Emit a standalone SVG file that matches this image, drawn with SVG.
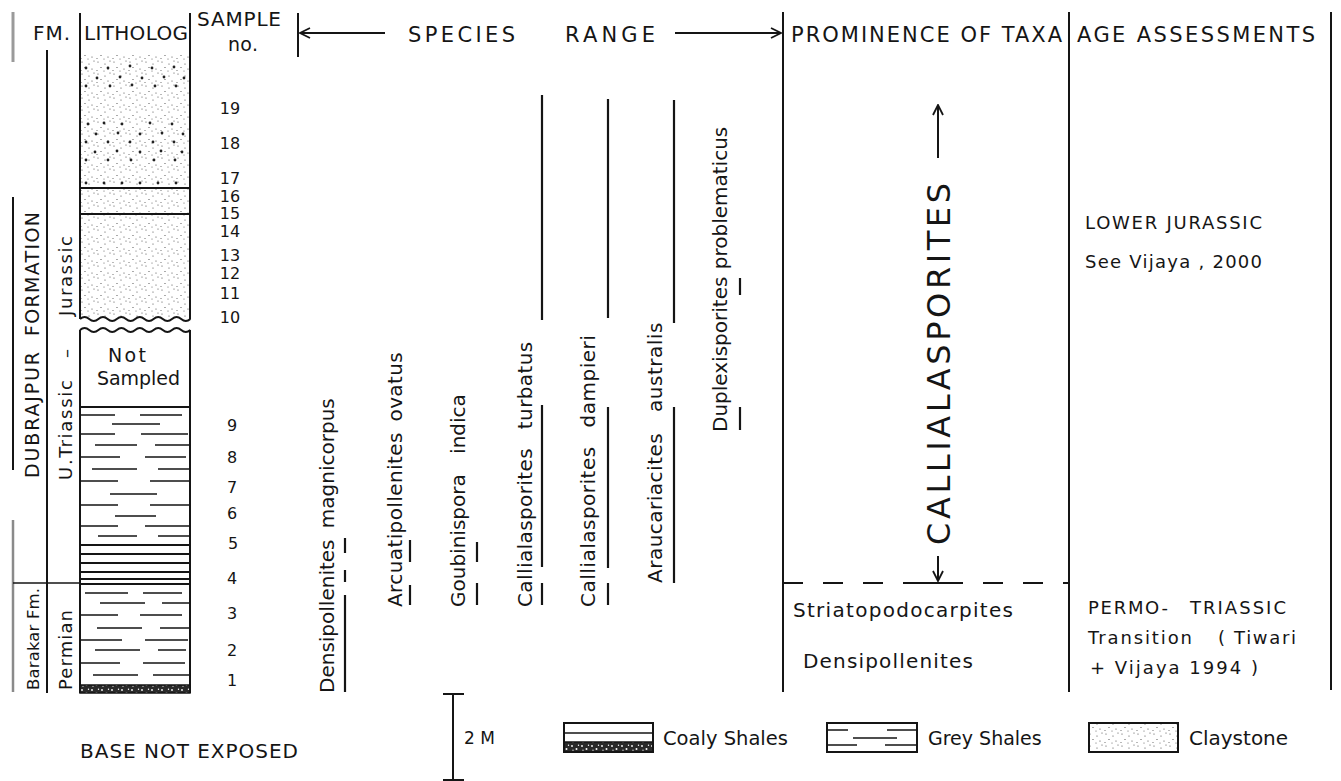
<svg xmlns="http://www.w3.org/2000/svg" width="1341" height="781" viewBox="0 0 1341 781">
<style>
.ln{stroke:#151515;stroke-width:2;fill:none}
.th{stroke:#151515;stroke-width:1.4;fill:none}
.rg{stroke:#151515;stroke-width:2.2;fill:none}
.t{font-family:"DejaVu Sans","Liberation Sans",Arial,sans-serif;fill:#151515}
.h{font-size:21px}
.n{font-size:16px}
.sp{font-size:20px}
.a{font-size:18px}
</style>
<defs>
<pattern id="clay" width="16" height="12" patternUnits="userSpaceOnUse">
<circle cx="2" cy="2" r="0.6" fill="#444"/><circle cx="9" cy="4" r="0.6" fill="#444"/><circle cx="14" cy="1" r="0.55" fill="#444"/><circle cx="5" cy="7.5" r="0.6" fill="#444"/><circle cx="12" cy="9" r="0.6" fill="#444"/><circle cx="1" cy="10.5" r="0.5" fill="#444"/><circle cx="8" cy="11" r="0.5" fill="#444"/>
</pattern>
<pattern id="coal" width="10" height="8" patternUnits="userSpaceOnUse">
<rect width="10" height="8" fill="#2a2a2a"/><circle cx="2" cy="2" r="0.9" fill="#fff"/><circle cx="6.5" cy="5" r="1" fill="#fff"/><circle cx="8.5" cy="1.2" r="0.7" fill="#fff"/><circle cx="3" cy="6.2" r="0.6" fill="#fff"/>
</pattern>
<marker id="arr" viewBox="0 0 12 12" refX="11" refY="6" markerWidth="12" markerHeight="12" markerUnits="userSpaceOnUse" orient="auto"><path d="M1,1 L11,6 L1,11" fill="none" stroke="#151515" stroke-width="1.8"/></marker>
</defs>
<rect width="1341" height="781" fill="#fff"/>

<g id="frame">
<line x1="13" y1="12" x2="13" y2="62" stroke="#9a9a9a" stroke-width="3"/>
<line x1="13" y1="197" x2="13" y2="470" class="ln"/>
<line x1="13" y1="520" x2="13" y2="692" stroke="#8a8a8a" stroke-width="2.5"/>
<line x1="47" y1="50" x2="47" y2="693" class="ln"/>
<line x1="13" y1="583" x2="80" y2="583" class="th"/>
<line x1="298" y1="13" x2="298" y2="57" class="ln"/>
<line x1="783" y1="12" x2="783" y2="692" class="ln"/>
<line x1="1069" y1="12" x2="1069" y2="692" class="ln"/>
<line x1="1331" y1="12" x2="1331" y2="690" class="ln"/>
</g>

<g id="header">
<text class="t" x="33" y="40" font-size="20" textLength="37" lengthAdjust="spacing">FM.</text>
<text class="t" x="84" y="40" font-size="20" textLength="104" lengthAdjust="spacing">LITHOLOG</text>
<text class="t" x="197" y="26" font-size="20" textLength="84" lengthAdjust="spacing">SAMPLE</text>
<text class="t" x="228" y="51" font-size="19" textLength="30" lengthAdjust="spacing">no.</text>
<text class="t h" x="408" y="42" textLength="107" lengthAdjust="spacing">SPECIES</text>
<text class="t h" x="565" y="42" textLength="90" lengthAdjust="spacing">RANGE</text>
<text class="t h" x="791" y="42" textLength="271" lengthAdjust="spacing">PROMINENCE OF TAXA</text>
<text class="t h" x="1077" y="42" textLength="238" lengthAdjust="spacing">AGE ASSESSMENTS</text>
</g>

<g id="fm-column">
<text class="t" font-size="19" transform="translate(39,478) rotate(-90)"><tspan x="0" textLength="126" lengthAdjust="spacing">DUBRAJPUR</tspan><tspan x="142" textLength="124" lengthAdjust="spacing">FORMATION</tspan></text>
<text class="t" font-size="16.5" transform="translate(39,690) rotate(-90)" textLength="102" lengthAdjust="spacing">Barakar Fm.</text>
<text class="t" font-size="18" transform="translate(72,480) rotate(-90)"><tspan x="0" textLength="100" lengthAdjust="spacing">U.Triassic</tspan><tspan x="122">–</tspan><tspan x="164" textLength="80" lengthAdjust="spacing">Jurassic</tspan></text>
<text class="t" font-size="18" transform="translate(72,690) rotate(-90)" textLength="80" lengthAdjust="spacing">Permian</text>
</g>

<g id="litholog">
<rect x="80" y="55" width="110" height="262" fill="url(#clay)"/>
<g fill="#222">
<circle cx="86" cy="68" r="1.4"/><circle cx="108" cy="68" r="1.4"/><circle cx="130" cy="66" r="1.4"/><circle cx="152" cy="68" r="1.4"/><circle cx="174" cy="67" r="1.4"/>
<circle cx="97" cy="78" r="1.4"/><circle cx="120" cy="77" r="1.4"/><circle cx="142" cy="78" r="1.4"/><circle cx="164" cy="77" r="1.4"/><circle cx="184" cy="78" r="1.4"/>
<circle cx="86" cy="86" r="1.4"/><circle cx="110" cy="86" r="1.4"/><circle cx="132" cy="85" r="1.4"/><circle cx="155" cy="86" r="1.4"/><circle cx="176" cy="86" r="1.4"/>
<circle cx="88" cy="124" r="1.4"/><circle cx="104" cy="123" r="1.4"/><circle cx="122" cy="124" r="1.4"/><circle cx="150" cy="123" r="1.4"/><circle cx="172" cy="124" r="1.4"/>
<circle cx="96" cy="134" r="1.4"/><circle cx="118" cy="133" r="1.4"/><circle cx="140" cy="134" r="1.4"/><circle cx="162" cy="133" r="1.4"/><circle cx="183" cy="134" r="1.4"/>
<circle cx="86" cy="142" r="1.4"/><circle cx="108" cy="142" r="1.4"/><circle cx="130" cy="142" r="1.4"/><circle cx="153" cy="142" r="1.4"/><circle cx="174" cy="142" r="1.4"/>
<circle cx="95" cy="152" r="1.4"/><circle cx="117" cy="151" r="1.4"/><circle cx="140" cy="152" r="1.4"/><circle cx="161" cy="151" r="1.4"/><circle cx="182" cy="152" r="1.4"/>
<circle cx="86" cy="160" r="1.4"/><circle cx="108" cy="160" r="1.4"/><circle cx="131" cy="160" r="1.4"/><circle cx="154" cy="160" r="1.4"/><circle cx="175" cy="160" r="1.4"/>
<circle cx="86" cy="183" r="1.4"/><circle cx="104" cy="183" r="1.4"/><circle cx="122" cy="183" r="1.4"/><circle cx="140" cy="183" r="1.4"/><circle cx="158" cy="183" r="1.4"/><circle cx="176" cy="183" r="1.4"/>
</g>
<line x1="80" y1="188" x2="190" y2="188" class="ln"/>
<line x1="80" y1="214" x2="190" y2="214" class="ln"/>
<path class="ln" d="M80,319 q4.6,-4 9.2,0 t9.2,0 t9.2,0 t9.2,0 t9.2,0 t9.2,0 t9.2,0 t9.2,0 t9.2,0 t9.2,0 t9.2,0 t9.2,0"/>
<path class="ln" d="M80,330 q4.6,-4 9.2,0 t9.2,0 t9.2,0 t9.2,0 t9.2,0 t9.2,0 t9.2,0 t9.2,0 t9.2,0 t9.2,0 t9.2,0 t9.2,0"/>
<line x1="80" y1="13" x2="80" y2="319" class="ln"/>
<line x1="190" y1="13" x2="190" y2="319" class="ln"/>
<line x1="80" y1="330" x2="80" y2="693" class="ln"/>
<line x1="190" y1="330" x2="190" y2="693" class="ln"/>
<text class="t" font-size="19" x="127" y="362" text-anchor="middle" textLength="38" lengthAdjust="spacing">Not</text>
<text class="t" font-size="19" x="97" y="385" textLength="83" lengthAdjust="spacing">Sampled</text>
<line x1="80" y1="407" x2="190" y2="407" class="ln"/>
<g class="th">
<path d="M80,415H115M140,415H182M112,424H160M80,434H115M141,434H188M95,445H137M155,445H190M80,457H120M145,457H186M92,469H137M158,469H190M80,481H118M150,481H190M110,494H157M80,505H118M150,505H190M115,516H156M80,526H118M145,526H190M98,536H137M158,536H190"/>
<path d="M85,593H128M143,593H182M100,603H145M162,603H190M80,615H118M140,615H182M97,628H142M160,628H190M80,640H122M145,640H188M95,650H140M158,650H186M80,663H120M143,663H185M93,675H138M153,675H190"/>
</g>
<path class="ln" d="M80,545H190M80,554H190M80,563H190M80,572H190M80,579H190M80,584H190"/>
<rect x="80" y="685" width="110" height="8" fill="url(#coal)" stroke="#151515" stroke-width="1.5"/>
</g>

<g id="samples" class="t n" text-anchor="middle">
<text x="230" y="114">19</text><text x="230" y="149">18</text><text x="230" y="184">17</text><text x="230" y="202">16</text><text x="230" y="219">15</text><text x="230" y="237">14</text><text x="230" y="261">13</text><text x="230" y="279">12</text><text x="230" y="299">11</text><text x="230" y="323">10</text>
<text x="232" y="431">9</text><text x="232" y="463">8</text><text x="232" y="493">7</text><text x="232" y="519">6</text><text x="233" y="549">5</text><text x="232" y="584">4</text><text x="232" y="619">3</text><text x="232" y="656">2</text><text x="232" y="686">1</text>
</g>

<g id="connectors">
<line x1="385" y1="33" x2="300" y2="33" class="ln" marker-end="url(#arr)"/>
<line x1="675" y1="33" x2="781" y2="33" class="ln" marker-end="url(#arr)"/>
<line x1="938" y1="158" x2="938" y2="105" class="ln" marker-end="url(#arr)"/>
<line x1="938" y1="556" x2="938" y2="581" class="ln" marker-end="url(#arr)"/>
<line x1="783" y1="583" x2="1069" y2="583" class="ln" stroke-dasharray="20 20"/>
<line x1="912" y1="583" x2="962" y2="583" class="ln"/>
</g>

<g id="sp-densipollenites-magnicorpus">
<text class="t sp" transform="translate(334,693) rotate(-90)">Densipollenites <tspan dx="5">magnicorpus</tspan></text>
<path class="rg" d="M345,538V553M345,570V582M345,595V692"/>
</g>
<g id="sp-arcuatipollenites-ovatus">
<text class="t sp" letter-spacing="0.4" transform="translate(402,607) rotate(-90)">Arcuatipollenites <tspan dx="4">ovatus</tspan></text>
<path class="rg" d="M410,540V562M410,585V605"/>
</g>
<g id="sp-goubinispora-indica">
<text class="t sp" transform="translate(465,607) rotate(-90)">Goubinispora <tspan dx="14">indica</tspan></text>
<path class="rg" d="M477,542V562M477,583V605"/>
</g>
<g id="sp-callialasporites-turbatus">
<text class="t sp" letter-spacing="0.4" transform="translate(532,607) rotate(-90)">Callialasporites <tspan dx="12">turbatus</tspan></text>
<path class="rg" d="M542,95V320M542,405V567M542,583V605"/>
</g>
<g id="sp-callialasporites-dampieri">
<text class="t sp" letter-spacing="0.5" transform="translate(595,607) rotate(-90)">Callialasporites <tspan dx="12">dampieri</tspan></text>
<path class="rg" d="M608,99V318M608,407V568M608,583V605"/>
</g>
<g id="sp-araucariacites-australis">
<text class="t sp" letter-spacing="0.5" transform="translate(662,583) rotate(-90)">Araucariacites <tspan dx="14">australis</tspan></text>
<path class="rg" d="M674,100V323M674,407V583"/>
</g>
<g id="sp-duplexisporites-problematicus">
<text class="t sp" transform="translate(727,432) rotate(-90)">Duplexisporites <tspan dx="1">problematicus</tspan></text>
<path class="rg" d="M740,278V295M740,407V430"/>
</g>

<g id="prominence">
<text class="t" font-size="32" transform="translate(950,545) rotate(-90)" textLength="362" lengthAdjust="spacing">CALLIALASPORITES</text>
<text class="t" x="793" y="617" font-size="20" textLength="220" lengthAdjust="spacing">Striatopodocarpites</text>
<text class="t" x="803" y="668" font-size="20" textLength="170" lengthAdjust="spacing">Densipollenites</text>
</g>

<g id="age">
<text class="t a" x="1085" y="229" textLength="177" lengthAdjust="spacing">LOWER JURASSIC</text>
<text class="t a" x="1085" y="268" textLength="177" lengthAdjust="spacing">See Vijaya , 2000</text>
<text class="t a" x="1088" y="614"><tspan textLength="80" lengthAdjust="spacing">PERMO-</tspan><tspan x="1190" textLength="96" lengthAdjust="spacing">TRIASSIC</tspan></text>
<text class="t a" x="1088" y="644"><tspan textLength="104" lengthAdjust="spacing">Transition</tspan><tspan x="1218" textLength="78" lengthAdjust="spacing">( Tiwari</tspan></text>
<text class="t a" x="1090" y="674" textLength="168" lengthAdjust="spacing">+ Vijaya  1994 )</text>
</g>

<g id="legend">
<text class="t" font-size="20" x="80" y="758" textLength="218" lengthAdjust="spacing">BASE NOT EXPOSED</text>
<path class="ln" d="M453,694V780M443,694H464M443,780H464"/>
<text class="t" font-size="17" x="464" y="744">2 M</text>
<g id="legend-coaly">
<rect x="564" y="742" width="89" height="10" fill="url(#coal)"/>
<rect x="564" y="723" width="89" height="29" class="ln"/>
<line x1="564" y1="733" x2="653" y2="733" class="th"/>
<line x1="564" y1="742" x2="653" y2="742" class="th"/>
<text class="t" font-size="19.5" x="663" y="745">Coaly Shales</text>
</g>
<g id="legend-grey">
<rect x="827" y="723" width="90" height="29" class="ln"/>
<path class="th" d="M827,730H848M887,730H917M853,738H878M872,738H897M827,745H857M885,745H917"/>
<text class="t" font-size="19" x="928" y="745">Grey Shales</text>
</g>
<g id="legend-clay">
<rect x="1089" y="723" width="89" height="29" class="ln" style="fill:url(#clay)"/>
<text class="t" font-size="20" x="1189" y="745">Claystone</text>
</g>
</g>
</svg>
